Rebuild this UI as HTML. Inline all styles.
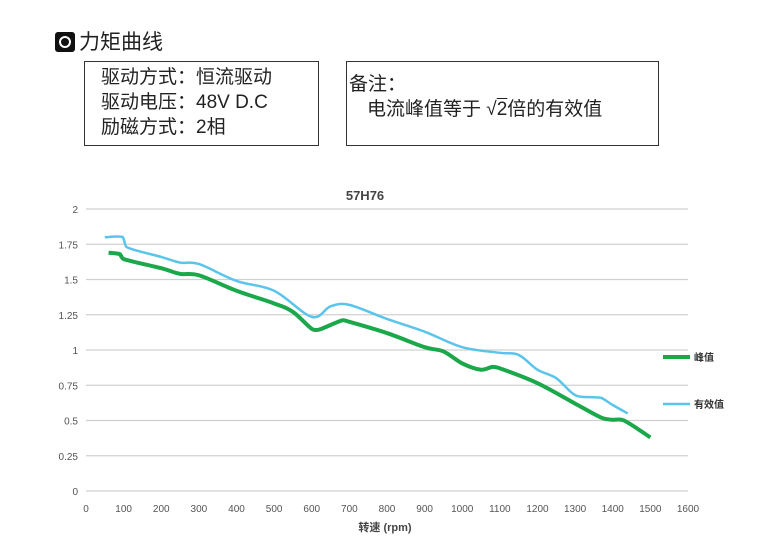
<!DOCTYPE html>
<html><head><meta charset="utf-8"><style>
body{margin:0;width:763px;height:549px;background:#fff;overflow:hidden;font-family:"Liberation Sans","Noto Sans CJK SC",sans-serif;}
.box{position:absolute;border:1.5px solid #333;box-sizing:border-box;font-size:19px;color:#222;line-height:25px}
</style></head><body>
<div style="position:absolute;left:55px;top:26px;font-size:21px;color:#222;">
<span style="display:inline-block;width:20px;height:20px;background:#111;border-radius:3px;vertical-align:-3px;position:relative;margin-right:4px"><span style="position:absolute;left:4px;top:4px;width:8px;height:8px;border:2px solid #fff;border-radius:50%"></span></span>力矩曲线</div>
<div class="box" style="left:84px;top:61px;width:235px;height:85px;padding:3px 0 0 16px">驱动方式：恒流驱动<br>驱动电压：48V D.C<br>励磁方式：2相</div>
<div class="box" style="left:346px;top:61px;width:313px;height:85px;padding:10px 0 0 2px">备注：<br><span style="padding-left:18px">电流峰值等于 √<span style="text-decoration:overline">2</span>倍的有效值</span></div>
<svg id="chart" width="763" height="549" style="position:absolute;left:0;top:0"></svg>
<script>
const xTicks=[0,100,200,300,400,500,600,700,800,900,1000,1100,1200,1300,1400,1500,1600];
const yTicks=[0,0.25,0.5,0.75,1,1.25,1.5,1.75,2];
const yTickLabels=["0","0.25","0.5","0.75","1","1.25","1.5","1.75","2"];
const peakX=[60,90,100,200,250,300,400,500,550,600,620,680,700,800,900,950,1000,1050,1080,1100,1200,1300,1370,1400,1430,1500];
const peakY=[1.69,1.68,1.645,1.58,1.54,1.53,1.42,1.33,1.27,1.15,1.145,1.21,1.20,1.12,1.02,0.99,0.905,0.86,0.88,0.87,0.765,0.62,0.52,0.505,0.50,0.38];
const rmsX=[50,98,108,200,250,300,400,500,600,650,700,800,900,1000,1100,1150,1200,1250,1300,1350,1370,1400,1440];
const rmsY=[1.80,1.80,1.73,1.66,1.62,1.61,1.49,1.42,1.235,1.31,1.32,1.22,1.13,1.02,0.98,0.965,0.86,0.80,0.68,0.665,0.66,0.61,0.55];
const X0=86,X1=688,Y0=491,Y1=209;
const sx=v=>X0+(v/1600)*(X1-X0), sy=v=>Y0-(v/2)*(Y0-Y1);
const svg=document.getElementById('chart'),NS='http://www.w3.org/2000/svg';
function mk(t,a,p){const e=document.createElementNS(NS,t);for(const k in a)e.setAttribute(k,a[k]);(p||svg).appendChild(e);return e;}
yTicks.forEach((v,i)=>{const g=mk('line',{x1:X0,x2:X1,y1:sy(v),y2:sy(v),stroke:'#d0d0d0','stroke-width':1.2});

const t=mk('text',{x:X0-8,y:sy(v)+4,'text-anchor':'end','font-size':10,fill:'#555'});t.textContent=yTickLabels[i];
});
xTicks.forEach(v=>{const t=mk('text',{x:sx(v),y:Y0+21,'text-anchor':'middle','font-size':10,fill:'#555'});t.textContent=v;
});
function path(xs,ys){const p=xs.map((x,i)=>[sx(x),sy(ys[i])]);let d='M'+p[0];
for(let i=0;i<p.length-1;i++){const a=p[Math.max(i-1,0)],b=p[i],c=p[i+1],e=p[Math.min(i+2,p.length-1)];
const k=Math.min(1,(c[0]-b[0])/15);
const c1=[b[0]+k*(c[0]-a[0])/6,b[1]+k*(c[1]-a[1])/6],c2=[c[0]-k*(e[0]-b[0])/6,c[1]-k*(e[1]-b[1])/6];d+='C'+c1+' '+c2+' '+c;}return d;}
const lr=mk('path',{d:path(rmsX,rmsY),fill:'none',stroke:'#5bc4ea','stroke-width':2.5});

const lp=mk('path',{d:path(peakX,peakY),fill:'none',stroke:'#1aa84a','stroke-width':4});

const tt=mk('text',{x:365,y:200,'text-anchor':'middle','font-size':13,'font-weight':'bold',fill:'#444'});tt.textContent='57H76';

const xt=mk('text',{x:385,y:531,'text-anchor':'middle','font-size':11,'font-weight':'bold',fill:'#444','xml:space':'preserve'});xt.textContent='转速    (rpm)';

[['峰值','#1aa84a',357,4],['有效值','#5bc4ea',404,2.5]].forEach(l=>{
const g=mk('g',{});
mk('line',{x1:663,x2:690,y1:l[2],y2:l[2],stroke:l[1],'stroke-width':l[3]},g);
const t=mk('text',{x:694,y:l[2]+4,'font-size':10,'font-weight':'bold',fill:'#333'},g);t.textContent=l[0];});
</script>
</body></html>
